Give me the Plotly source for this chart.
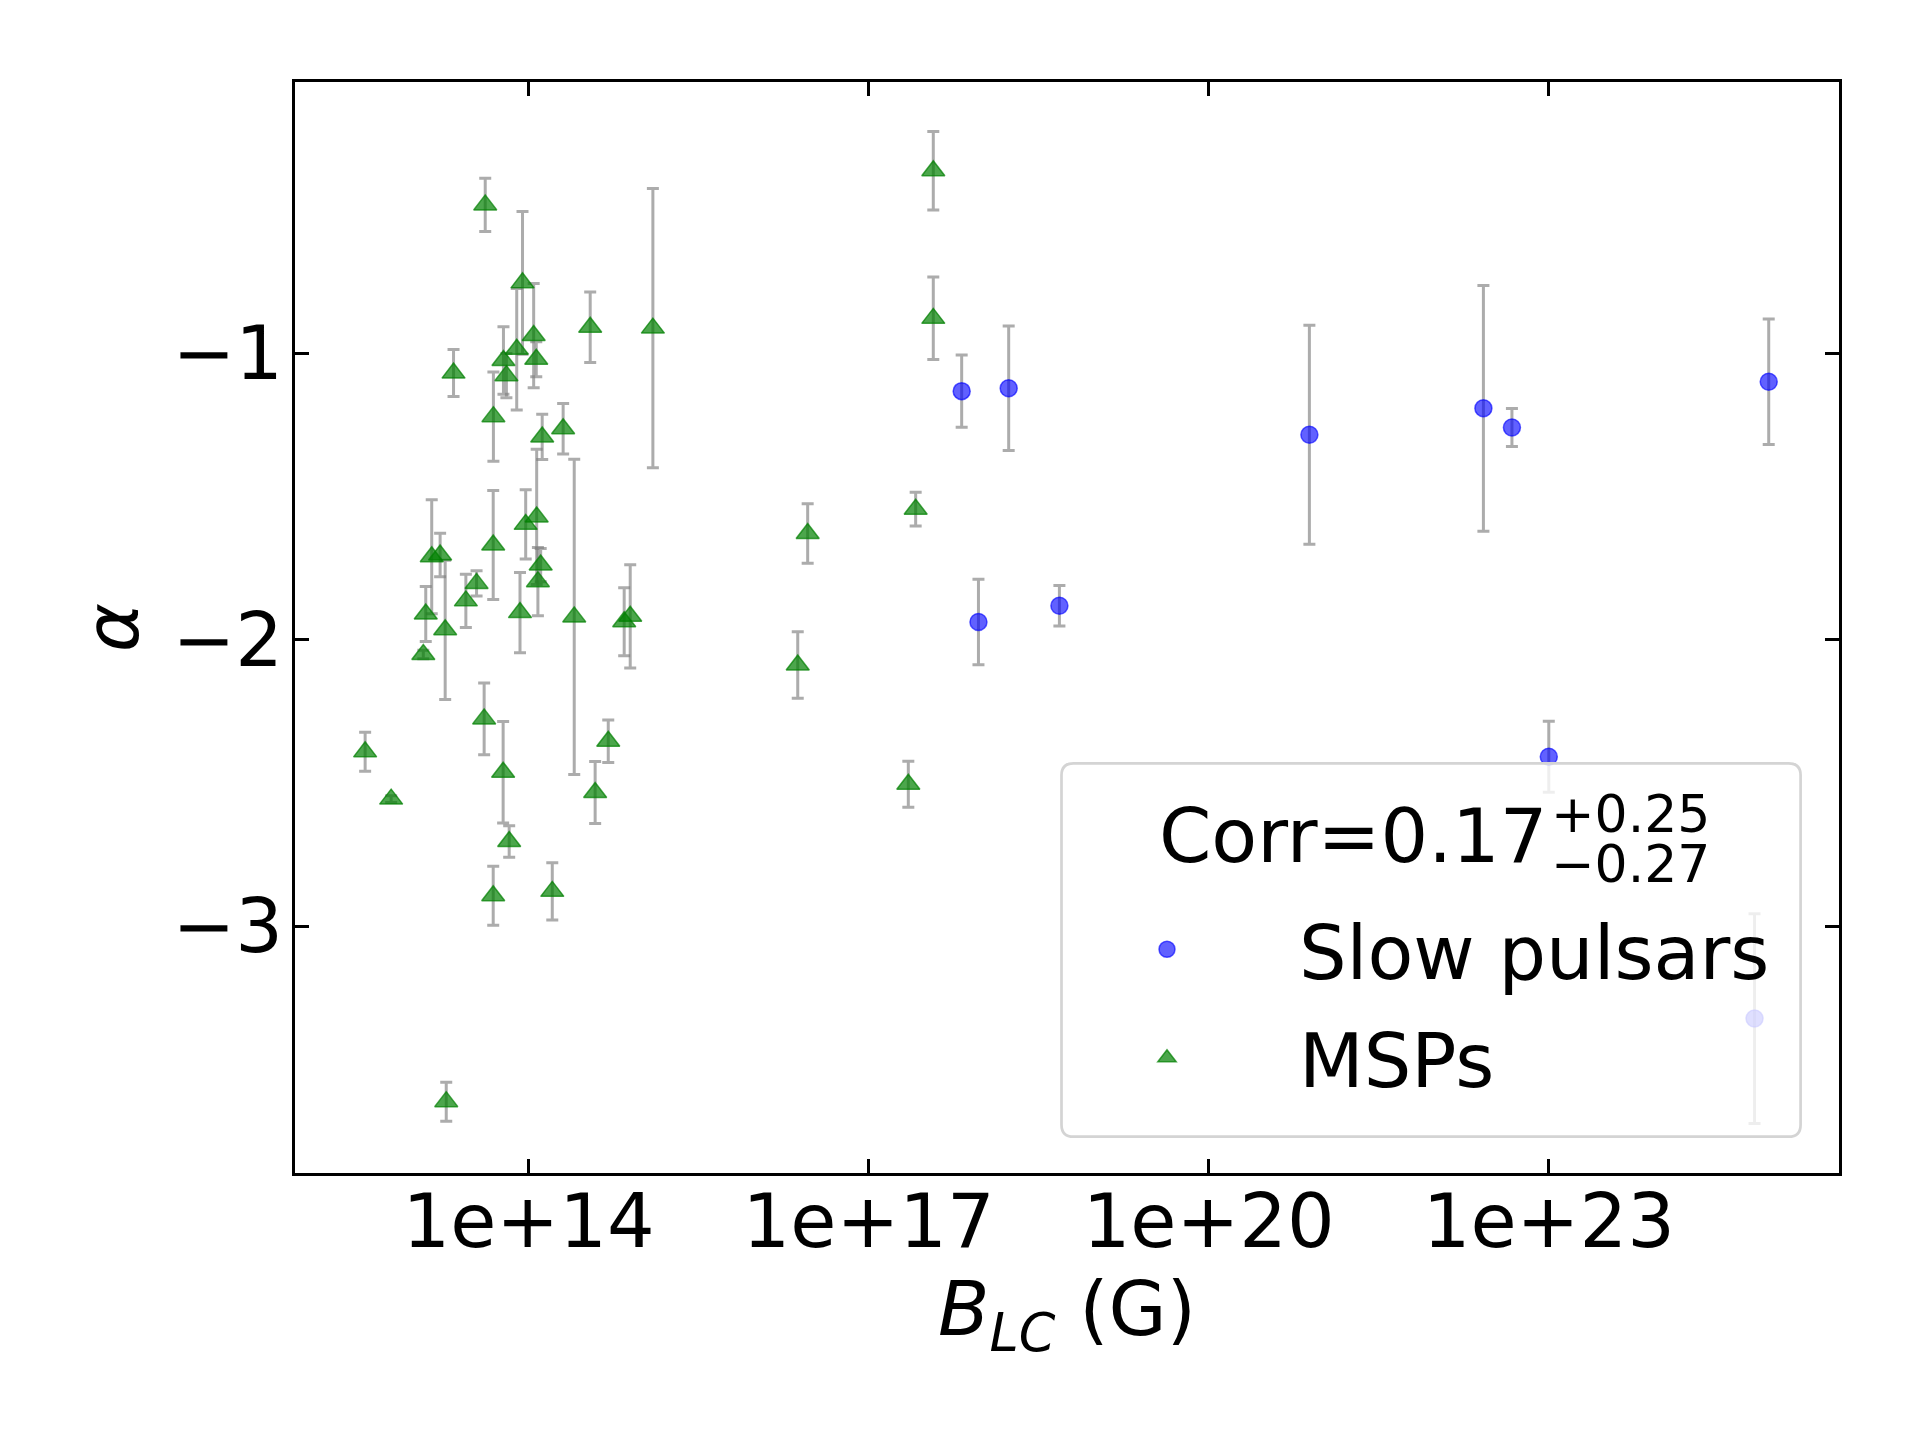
import plotly.graph_objects as go

# ---------------- data ----------------
slow_B = [6.62e17, 9.31e17, 1.72e18, 4.82e18, 7.73e20, 2.65e22, 4.73e22, 1.00e23, 6.53e24, 8.71e24]
slow_alpha = [-1.133, -1.939, -1.123, -1.882, -1.285, -1.193, -1.260, -2.409, -3.323, -1.100]
slow_err = [0.126, 0.149, 0.217, 0.071, 0.382, 0.429, 0.066, 0.124, 0.366, 0.219]

msp_B = [3.62e12, 6.14e12, 1.18e13, 1.24e13, 1.40e13, 1.66e13, 1.84e13, 1.88e13, 2.18e13, 2.80e13,
         3.48e13, 4.06e13, 4.15e13, 4.90e13, 4.88e13, 4.88e13, 5.97e13, 6.01e13, 6.38e13, 6.75e13,
         7.87e13, 8.41e13, 8.85e13, 9.44e13, 1.11e14, 1.17e14, 1.18e14, 1.21e14, 1.28e14, 1.32e14,
         1.62e14, 2.02e14, 2.53e14, 3.50e14, 3.87e14, 5.05e14, 6.98e14, 7.89e14, 1.25e15, 2.37e16,
         2.90e16, 2.24e17, 2.60e17, 3.72e17, 3.72e17]
msp_alpha = [-2.392, -2.557, -2.052, -1.911, -1.711, -1.705, -1.966, -3.613, -1.070, -1.865,
             -1.804, -2.277, -0.483, -1.222, -1.670, -2.894, -2.463, -1.026, -1.079, -2.705,
             -0.987, -1.906, -0.755, -1.598, -0.939, -1.022, -1.572, -1.798, -1.740, -1.293,
             -2.879, -1.264, -1.921, -0.910, -2.534, -2.355, -1.938, -1.919, -0.913, -2.089,
             -1.630, -2.505, -1.545, -0.364, -0.879]
msp_err = [0.068, 0.012, 0.015, 0.096, 0.199, 0.076, 0.243, 0.068, 0.082, 0.093,
           0.044, 0.125, 0.093, 0.156, 0.190, 0.103, 0.177, 0.118, 0.077, 0.055,
           0.212, 0.140, 0.249, 0.121, 0.182, 0.061, 0.236, 0.119, 0.058, 0.079,
           0.100, 0.088, 0.550, 0.123, 0.108, 0.074, 0.119, 0.180, 0.487, 0.116,
           0.104, 0.080, 0.059, 0.137, 0.144]

x_tickvals = [1e14, 1e17, 1e20, 1e23]
x_ticktext = ["1e+14", "1e+17", "1e+20", "1e+23"]
y_tickvals = [-1, -2, -3]
y_ticktext = ["\u22121", "\u22122", "\u22123"]

corr_main = "Corr=0.17"
corr_up = "+0.25"
corr_low = "\u22120.27"

# ---------------- figure ----------------
ERR_COLOR = "rgba(128,128,128,0.65)"
FONT = "DejaVu Sans"

fig = go.Figure()
fig.add_trace(go.Scatter(
    x=slow_B, y=slow_alpha, mode="markers", name="Slow pulsars", legendgroup="slow",
    marker=dict(symbol="circle", size=17, color="rgba(0,0,255,0.62)",
                line=dict(color="rgba(0,0,255,0.62)", width=1.5)),
    error_y=dict(type="data", array=slow_err, color=ERR_COLOR, thickness=3, width=6),
))
fig.add_trace(go.Scatter(
    x=msp_B, y=msp_alpha, mode="markers", name="MSPs", legendgroup="msp",
    marker=dict(symbol="triangle-up", size=20, color="rgba(0,128,0,0.7)",
                line=dict(color="rgba(0,128,0,0.7)", width=1.5)),
    error_y=dict(type="data", array=msp_err, color=ERR_COLOR, thickness=3, width=6),
))

# plot area in px: x 295..1839, y 82..1173
L, R, T, B = 295, 1839, 82, 1173
W, H = R - L, B - T


def px(xp):
    return (xp - L) / W


def py(yp):
    return (B - yp) / H


def rounded_rect(x0, y0, x1, y1, r):
    rx, ry = r / W, r / H
    X0, X1, Y0, Y1 = px(x0), px(x1), py(y1), py(y0)  # Y0 bottom, Y1 top
    return (f"M {X0+rx},{Y0} L {X1-rx},{Y0} Q {X1},{Y0} {X1},{Y0+ry} "
            f"L {X1},{Y1-ry} Q {X1},{Y1} {X1-rx},{Y1} L {X0+rx},{Y1} "
            f"Q {X0},{Y1} {X0},{Y1-ry} L {X0},{Y0+ry} Q {X0},{Y0} {X0+rx},{Y0} Z")


axis_common = dict(
    ticks="inside", ticklen=14, tickwidth=2.5, tickcolor="black",
    showline=True, linecolor="black", linewidth=3, mirror="ticks",
    showgrid=False, zeroline=False,
    tickfont=dict(family=FONT, size=75, color="black"),
)

fig.update_layout(
    width=1920, height=1440,
    margin=dict(l=L, r=1920 - R, t=T, b=1440 - B),
    paper_bgcolor="white", plot_bgcolor="white",
    font=dict(family=FONT, size=75, color="black"),
    xaxis=dict(type="log", range=[11.94, 25.56], tickvals=x_tickvals, ticktext=x_ticktext,
               ticklabelstandoff=-19,
               title=dict(text="<i>B</i><sub><i>LC</i></sub> (G)", standoff=6,
                          font=dict(family=FONT, size=75)),
               **axis_common),
    yaxis=dict(range=[-3.862, -0.054], tickvals=y_tickvals, ticktext=y_ticktext,
               ticklabelstandoff=-6,
               title=dict(text="<i>α</i>", standoff=10, font=dict(family=FONT, size=75)),
               **axis_common),
    showlegend=True,
    legend=dict(x=px(1035), y=py(894), xanchor="left", yanchor="top",
                bgcolor="rgba(0,0,0,0)", borderwidth=0, itemwidth=254,
                traceorder="grouped", tracegroupgap=8,
                font=dict(family=FONT, size=75, color="black"),
                itemclick=False, itemdoubleclick=False),
    shapes=[dict(type="path", xref="paper", yref="paper",
                 path=rounded_rect(1061.5, 763.3, 1800.6, 1136.7, 12),
                 fillcolor="rgba(255,255,255,0.8)",
                 line=dict(color="#d4d4d4", width=2.7), layer="above")],
    annotations=[
        dict(text=corr_main, xref="paper", yref="paper", x=px(1157), y=py(835.7),
             xanchor="left", yanchor="middle", showarrow=False,
             font=dict(family=FONT, size=75, color="black")),
        dict(text=corr_up, xref="paper", yref="paper", x=px(1549), y=py(813.7),
             xanchor="left", yanchor="middle", showarrow=False,
             font=dict(family=FONT, size=52, color="black")),
        dict(text=corr_low, xref="paper", yref="paper", x=px(1549), y=py(863.7),
             xanchor="left", yanchor="middle", showarrow=False,
             font=dict(family=FONT, size=52, color="black")),
    ],
)

fig.write_html("out.html")
